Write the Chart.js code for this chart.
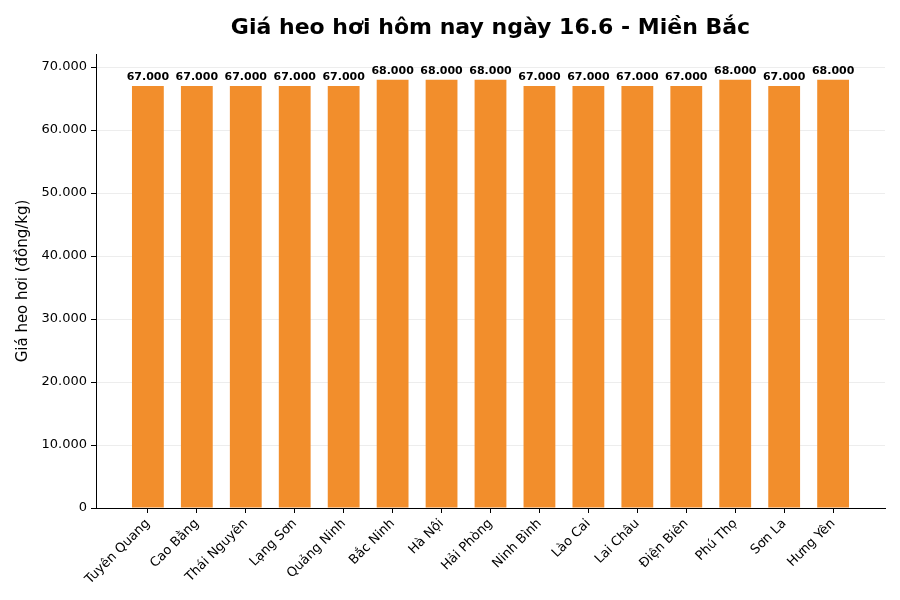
<!DOCTYPE html>
<html>
<head>
<meta charset="utf-8">
<script src="https://cdn.jsdelivr.net/npm/chart.js@4"></script>
<style>
  html, body { margin: 0; padding: 0; background: #fff; }
  #wrap { width: 900px; height: 600px; }
</style>
</head>
<body>
<div id="wrap"><canvas id="myChart" width="900" height="600"></canvas></div>
<script>
// chart data
const provinces = ['Tuyên Quang', 'Cao Bằng', 'Thái Nguyên', 'Lạng Sơn', 'Quảng Ninh', 'Bắc Ninh', 'Hà Nội',
  'Hải Phòng', 'Ninh Bình', 'Lào Cai', 'Lai Châu', 'Điện Biên', 'Phú Thọ', 'Sơn La', 'Hưng Yên'];
const prices = [67000, 67000, 67000, 67000, 67000, 68000, 68000, 68000, 67000, 67000, 67000, 67000, 68000, 67000, 68000];
const yTicks = [0, 10000, 20000, 30000, 40000, 50000, 60000, 70000];
const titleText = 'Giá heo hơi hôm nay ngày 16.6 - Miền Bắc';
const yLabel = 'Giá heo hơi (đồng/kg)';

const FONT = "'DejaVu Sans', sans-serif";
const fmt = v => String(v).replace(/\B(?=(\d{3})+(?!\d))/g, '.');

// title centred over the plot area, like matplotlib does
const titlePlugin = {
  id: 'plotTitle',
  afterDraw(chart) {
    const { ctx, chartArea } = chart;
    ctx.save();
    ctx.font = 'bold 22px ' + FONT;
    ctx.fillStyle = '#000';
    ctx.textAlign = 'center';
    ctx.textBaseline = 'middle';
    ctx.fillText(titleText, (chartArea.left + chartArea.right) / 2, 28);
    ctx.restore();
  }
};

// value labels above each bar
const valueLabels = {
  id: 'valueLabels',
  afterDatasetsDraw(chart) {
    const { ctx } = chart;
    const meta = chart.getDatasetMeta(0);
    ctx.save();
    ctx.font = 'bold 11px ' + FONT;
    ctx.fillStyle = '#000';
    ctx.textAlign = 'center';
    ctx.textBaseline = 'bottom';
    meta.data.forEach((bar, i) => {
      ctx.fillText(fmt(prices[i]), bar.x, bar.y - 3);
    });
    ctx.restore();
  }
};

const data = {
  datasets: [{
    data: prices.map((p, i) => ({ x: i, y: p })),
    backgroundColor: 'rgb(242,142,44)',
    borderWidth: 0,
    barPercentage: 0.65,
    categoryPercentage: 1.0
  }]
};

const options = {
  responsive: false,
  animation: false,
  devicePixelRatio: 1,
  layout: { padding: { left: 14, right: 15, top: 54, bottom: 0 } },
  plugins: { legend: { display: false }, tooltip: { enabled: false } },
  scales: {
    x: {
      type: 'linear',
      min: -1.06,
      max: 15.06,
      offset: false,
      afterBuildTicks: axis => { axis.ticks = provinces.map((p, i) => ({ value: i })); },
      afterFit: axis => { axis.height = 92; },
      ticks: {
        autoSkip: false,
        minRotation: 45,
        maxRotation: 45,
        color: '#000',
        font: { family: FONT, size: 13 },
        padding: 3,
        callback: v => provinces[v]
      },
      grid: { offset: false, drawOnChartArea: false, tickColor: '#000', tickLength: 5 },
      border: { color: '#000', width: 1 }
    },
    y: {
      min: 0,
      max: 72080,
      afterBuildTicks: axis => { axis.ticks = yTicks.map(v => ({ value: v })); },
      afterFit: axis => { axis.width = 82; },
      ticks: {
        color: '#000',
        font: { family: FONT, size: 13 },
        padding: 4,
        callback: v => fmt(v)
      },
      grid: { color: 'rgba(0,0,0,0.07)', tickColor: '#000', tickLength: 5 },
      border: { color: '#000', width: 1 },
      title: {
        display: true,
        text: yLabel,
        color: '#000',
        font: { family: FONT, size: 15 },
        padding: 0
      }
    }
  }
};

new Chart(document.getElementById('myChart').getContext('2d'), {
  type: 'bar',
  data: data,
  options: options,
  plugins: [titlePlugin, valueLabels]
});
</script>
</body>
</html>
